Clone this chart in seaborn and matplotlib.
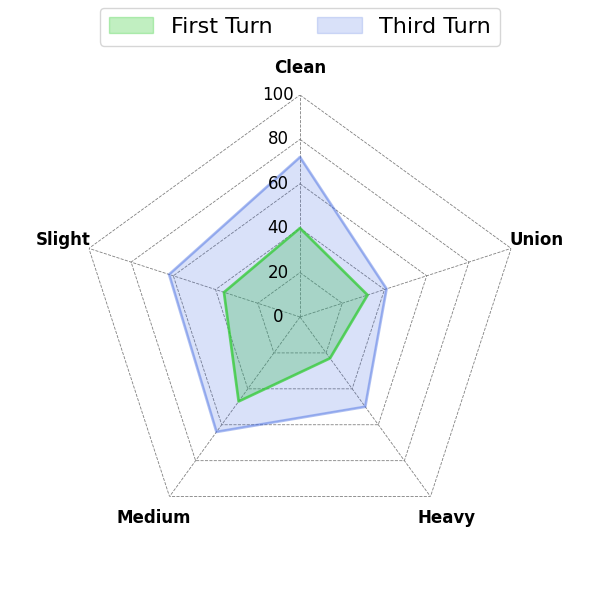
import numpy as np
import matplotlib
matplotlib.use("Agg")
import matplotlib.pyplot as plt
import matplotlib.transforms as mtransforms
import seaborn as sns

categories = ["Clean", "Union", "Heavy", "Medium", "Slight"]
first_turn = [40, 32, 23, 47, 36]
third_turn = [72, 41, 50, 64, 62]
series_names = ["First Turn", "Third Turn"]
r_ticks = [0, 20, 40, 60, 80, 100]

sns.set_style("white")
plt.rcParams['font.family'] = ['DejaVu Sans']
plt.rcParams['text.color'] = 'black'
plt.rcParams['xtick.color'] = 'black'
plt.rcParams['ytick.color'] = 'black'

fig = plt.figure(figsize=(6, 6), dpi=100)
ax = fig.add_axes([0.13, 0.1017, 0.74, 0.74], projection='polar')
ax.set_theta_offset(np.pi / 2)
ax.set_theta_direction(-1)

n = len(categories)
angles = np.linspace(0, 2 * np.pi, n, endpoint=False)
closed = np.concatenate([angles, angles[:1]])

# pentagon grid
for r in r_ticks[1:]:
    ax.plot(closed, [r] * (n + 1), color='grey', lw=0.6, ls='--', zorder=1)

ax.set_ylim(0, 100)
ax.set_yticks(r_ticks)
ax.set_yticklabels([])
ax.yaxis.grid(False)
ax.xaxis.grid(True, color='grey', lw=0.6, ls='--')
ax.spines['polar'].set_visible(False)

# radial value labels along the top axis
off = mtransforms.offset_copy(ax.transData, fig=fig, x=-22, y=0, units='dots')
for r in r_ticks:
    ax.text(0, r, str(r), transform=off, ha='center', va='center',
            fontsize=12, color='black', zorder=5)

ax.set_xticks(angles)
ax.set_xticklabels(categories, fontsize=12, fontweight='bold', color='black')
ax.tick_params(axis='x', pad=9)

colors = ['limegreen', 'royalblue']
fill_alphas = [0.3, 0.2]
line_alphas = [0.7, 0.4]
for vals, name, c, fa, la in zip([first_turn, third_turn], series_names, colors, fill_alphas, line_alphas):
    v = list(vals) + [vals[0]]
    ax.fill(closed, v, color=c, alpha=fa, label=name, zorder=2)
    ax.plot(closed, v, color=c, alpha=la, lw=2, zorder=3)

leg = fig.legend(loc='upper center', bbox_to_anchor=(0.5, 0.987), ncol=2, fontsize=16,
                 borderaxespad=0)
for t in leg.get_texts():
    t.set_color('black')

fig.savefig('out.png', dpi=100)
